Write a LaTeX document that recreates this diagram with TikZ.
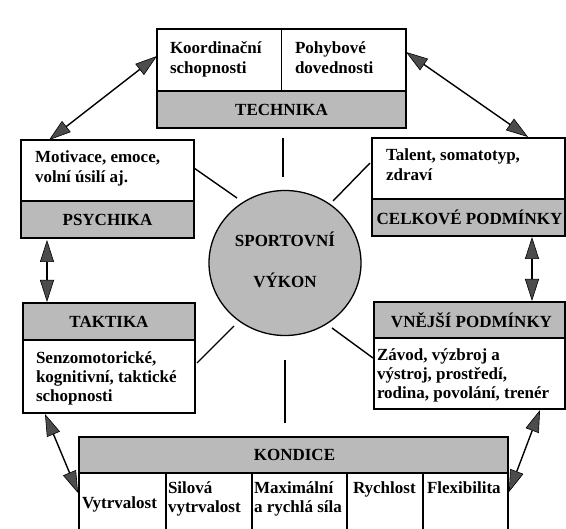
\documentclass[tikz,border=0pt]{standalone}
\usepackage{fontspec}
\setmainfont{Liberation Serif}
\usetikzlibrary{arrows.meta,calc,shapes.geometric}

\begin{document}
\begin{tikzpicture}[x=1pt,y=-1pt,
  area/.style={inner sep=0pt, outer sep=0pt},
  frame/.style={draw, line width=1.3pt},
  band/.style={fill=black!27},
  link/.style={line width=1.4pt},
  twoway/.style={line width=1.4pt,
    {Triangle[length=22pt,width=14pt,fill=black!70,line width=0.6pt]}-{Triangle[length=22pt,width=14pt,fill=black!70,line width=0.6pt]}},
  lbl/.style={font=\bfseries\fontsize{17}{20}\selectfont, inner sep=0pt, outer sep=0pt, align=left, anchor=base west},
  lblthree/.style={font=\bfseries\fontsize{17}{19}\selectfont, inner sep=0pt, outer sep=0pt, align=left, anchor=base west},
  head/.style={font=\bfseries\fontsize{17}{20}\selectfont, inner sep=0pt, outer sep=0pt}
]
\useasboundingbox (0,0) rectangle (566,529);
\clip (0,0) rectangle (566,529);

% ---------- box areas ----------
\node[area, minimum width=249pt, minimum height=99pt]  (tech) at (281.5,78.5) {};
\node[area, minimum width=173pt, minimum height=98pt]  (psy)  at (107.5,189) {};
\node[area, minimum width=193pt, minimum height=98pt]  (celk) at (468.5,187) {};
\node[area, minimum width=172pt, minimum height=110pt] (takt) at (109,358) {};
\node[area, minimum width=191pt, minimum height=107pt] (vnej) at (469.5,355.5) {};
\node[area, minimum width=429pt, minimum height=110pt] (kond) at (293.5,492) {};

% ---------- shaded title bands ----------
\fill[band] ($(tech.south west)+(0,-37)$) rectangle (tech.south east);
\fill[band] ($(psy.south west)+(0,-37)$) rectangle (psy.south east);
\fill[band] ($(celk.south west)+(0,-37)$) rectangle (celk.south east);
\fill[band] (takt.north west) rectangle ($(takt.north east)+(0,37)$);
\fill[band] (vnej.north west) rectangle ($(vnej.north east)+(0,36)$);
\fill[band] (kond.north west) rectangle ($(kond.north east)+(0,36)$);

% ---------- outlines and dividers ----------
\draw[frame] (tech.north west) rectangle (tech.south east);
\draw[frame] ($(tech.south west)+(0,-37)$) -- ($(tech.south east)+(0,-37)$);
\draw[frame] (tech.north) -- ($(tech.south)+(0,-37)$);

\draw[frame] (psy.north west) rectangle (psy.south east);
\draw[frame] ($(psy.south west)+(0,-37)$) -- ($(psy.south east)+(0,-37)$);

\draw[frame] (celk.north west) rectangle (celk.south east);
\draw[frame] ($(celk.south west)+(0,-37)$) -- ($(celk.south east)+(0,-37)$);

\draw[frame] (takt.north west) rectangle (takt.south east);
\draw[frame] ($(takt.north west)+(0,37)$) -- ($(takt.north east)+(0,37)$);

\draw[frame] (vnej.north west) rectangle (vnej.south east);
\draw[frame] ($(vnej.north west)+(0,36)$) -- ($(vnej.north east)+(0,36)$);

\draw[frame] (kond.south west) -- (kond.north west) -- (kond.north east) -- (kond.south east);
\draw[frame] ($(kond.north west)+(0,36)$) -- ($(kond.north east)+(0,36)$);
\foreach \cx in {166,252,347,423}
  \draw[frame] (\cx,473) -- (\cx,540);

% ---------- central circle ----------
\node[ellipse, draw, line width=1.3pt, fill=black!27, minimum width=152pt, minimum height=145pt] (core) at (285,263) {};
\node[head, align=center, anchor=base] (coretext) at (285,288) {SPORTOVNÍ\\[21pt]VÝKON};

% ---------- spokes ----------
\coordinate (a1) at (283,138); \coordinate (a2) at (283,177);
\coordinate (b1) at (285,360); \coordinate (b2) at (285,423);
\coordinate (c1) at (194,168); \coordinate (c2) at (237,198);
\coordinate (d1) at (370,163); \coordinate (d2) at (333,201);
\coordinate (e1) at (197,363); \coordinate (e2) at (234,326);
\coordinate (f1) at (332,328); \coordinate (f2) at (373,358);
\draw[link] (a1) -- (a2);
\draw[link] (b1) -- (b2);
\draw[link] (c1) -- (c2);
\draw[link] (d1) -- (d2);
\draw[link] (e1) -- (e2);
\draw[link] (f1) -- (f2);

% ---------- two-way arrows ----------
\coordinate (p1) at (49,140);  \coordinate (p2) at (157,56);
\coordinate (q1) at (406,52);  \coordinate (q2) at (528,137);
\coordinate (r1) at (532,237); \coordinate (r2) at (532,301);
\coordinate (s1) at (47,240);  \coordinate (s2) at (47,302);
\coordinate (u1) at (45,414);  \coordinate (u2) at (78,493);
\coordinate (v1) at (540,410); \coordinate (v2) at (509,492);
\draw[twoway] (p1) -- (p2);
\draw[twoway] (q1) -- (q2);
\draw[twoway] (r1) -- (r2);
\draw[twoway] (s1) -- (s2);
\draw[twoway] (u1) -- (u2);
\draw[twoway] (v1) -- (v2);

% ---------- texts (anchored at the baseline of the last line) ----------
\node[lbl] (t1) at (170,74) {Koordinační\\schopnosti};
\node[lbl] (t2) at (295,74) {Pohybové\\dovednosti};
\node[head] (t3) at ($(tech.south)+(0,-18.5)$) {TECHNIKA};

\node[lbl] (t4) at (35,183) {Motivace, emoce,\\volní úsilí aj.};
\node[head] (t5) at ($(psy.south)+(0,-18.5)$) {PSYCHIKA};

\node[lbl] (t6) at (386,181) {Talent, somatotyp,\\zdraví};
\node[head] (t7) at ($(celk.south)+(1,-18.5)$) {CELKOVÉ PODMÍNKY};

\node[head] (t8) at ($(takt.north)+(0,18.5)$) {TAKTIKA};
\node[lblthree] (t9) at (36,402) {Senzomotorické,\\kognitivní, taktické\\schopnosti};

\node[head] (t10) at ($(vnej.north)+(2,18)$) {VNĚJŠÍ PODMÍNKY};
\node[lblthree] (t11) at (377,399) {Závod, výzbroj a\\výstroj, prostředí,\\rodina, povolání, trenér};

\node[head] (t12) at ($(kond.north)+(1,18)$) {KONDICE};
\node[lbl] (t13) at (82,509) {Vytrvalost};
\node[lblthree] (t14) at (168,513) {Silová\\vytrvalost};
\node[lblthree] (t15) at (254,513) {Maximální\\a rychlá síla};
\node[lbl] (t16) at (353,494) {Rychlost};
\node[lbl] (t17) at (427,494) {Flexibilita};
\end{tikzpicture}
\end{document}
